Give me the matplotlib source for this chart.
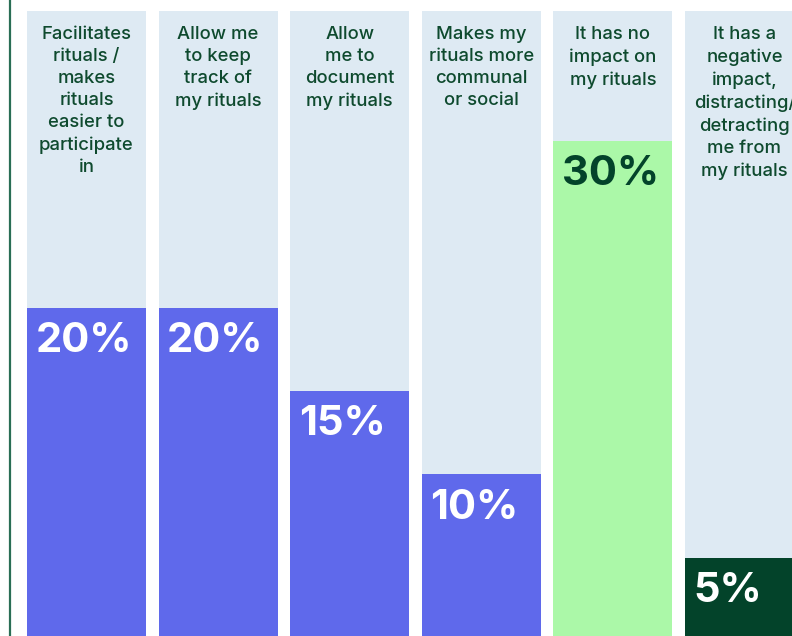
import matplotlib.pyplot as plt

categories = [
    "Facilitates\nrituals /\nmakes\nrituals\neasier to\nparticipate\nin",
    "Allow me\nto keep\ntrack of\nmy rituals",
    "Allow\nme to\ndocument\nmy rituals",
    "Makes my\nrituals more\ncommunal\nor social",
    "It has no\nimpact on\nmy rituals",
    "It has a\nnegative\nimpact,\ndistracting/\ndetracting\nme from\nmy rituals",
]
values = [20, 20, 15, 10, 30, 5]

bar_colors = ["#5f69eb", "#5f69eb", "#5f69eb", "#5f69eb", "#abf8a8", "#03432a"]
label_colors = ["white", "white", "white", "white", "#03432a", "white"]
text_color = "#0e4a2e"
track_color = "#deeaf3"

fig = plt.figure(figsize=(7.92, 6.36), dpi=100)
ax = fig.add_axes([0, 0, 1, 1])

x = range(len(categories))
width = 0.904
track_top = 37.8

ax.bar(x, [track_top] * len(categories), width=width, color=track_color, zorder=1)
ax.bar(x, values, width=width, color=bar_colors, zorder=2)

for i, (cat, v) in enumerate(zip(categories, values)):
    ax.text(i, track_top - 0.9, cat, ha="center", va="top", fontsize=13.3,
            color=text_color, family="Inter", fontweight="medium",
            linespacing=1.39, zorder=3)
    ax.text(i - width / 2 + 0.065, v - 0.85, f"{v}%", ha="left", va="top",
            fontsize=30, fontweight="bold", color=label_colors[i],
            family="Inter", zorder=3)

ax.axvline(-0.58, color="#2a6e55", linewidth=1.6)

ax.set_xlim(-0.657, 5.361)
ax.set_ylim(0.3, 38.47)
ax.axis("off")

fig.savefig("out.png", dpi=100)
